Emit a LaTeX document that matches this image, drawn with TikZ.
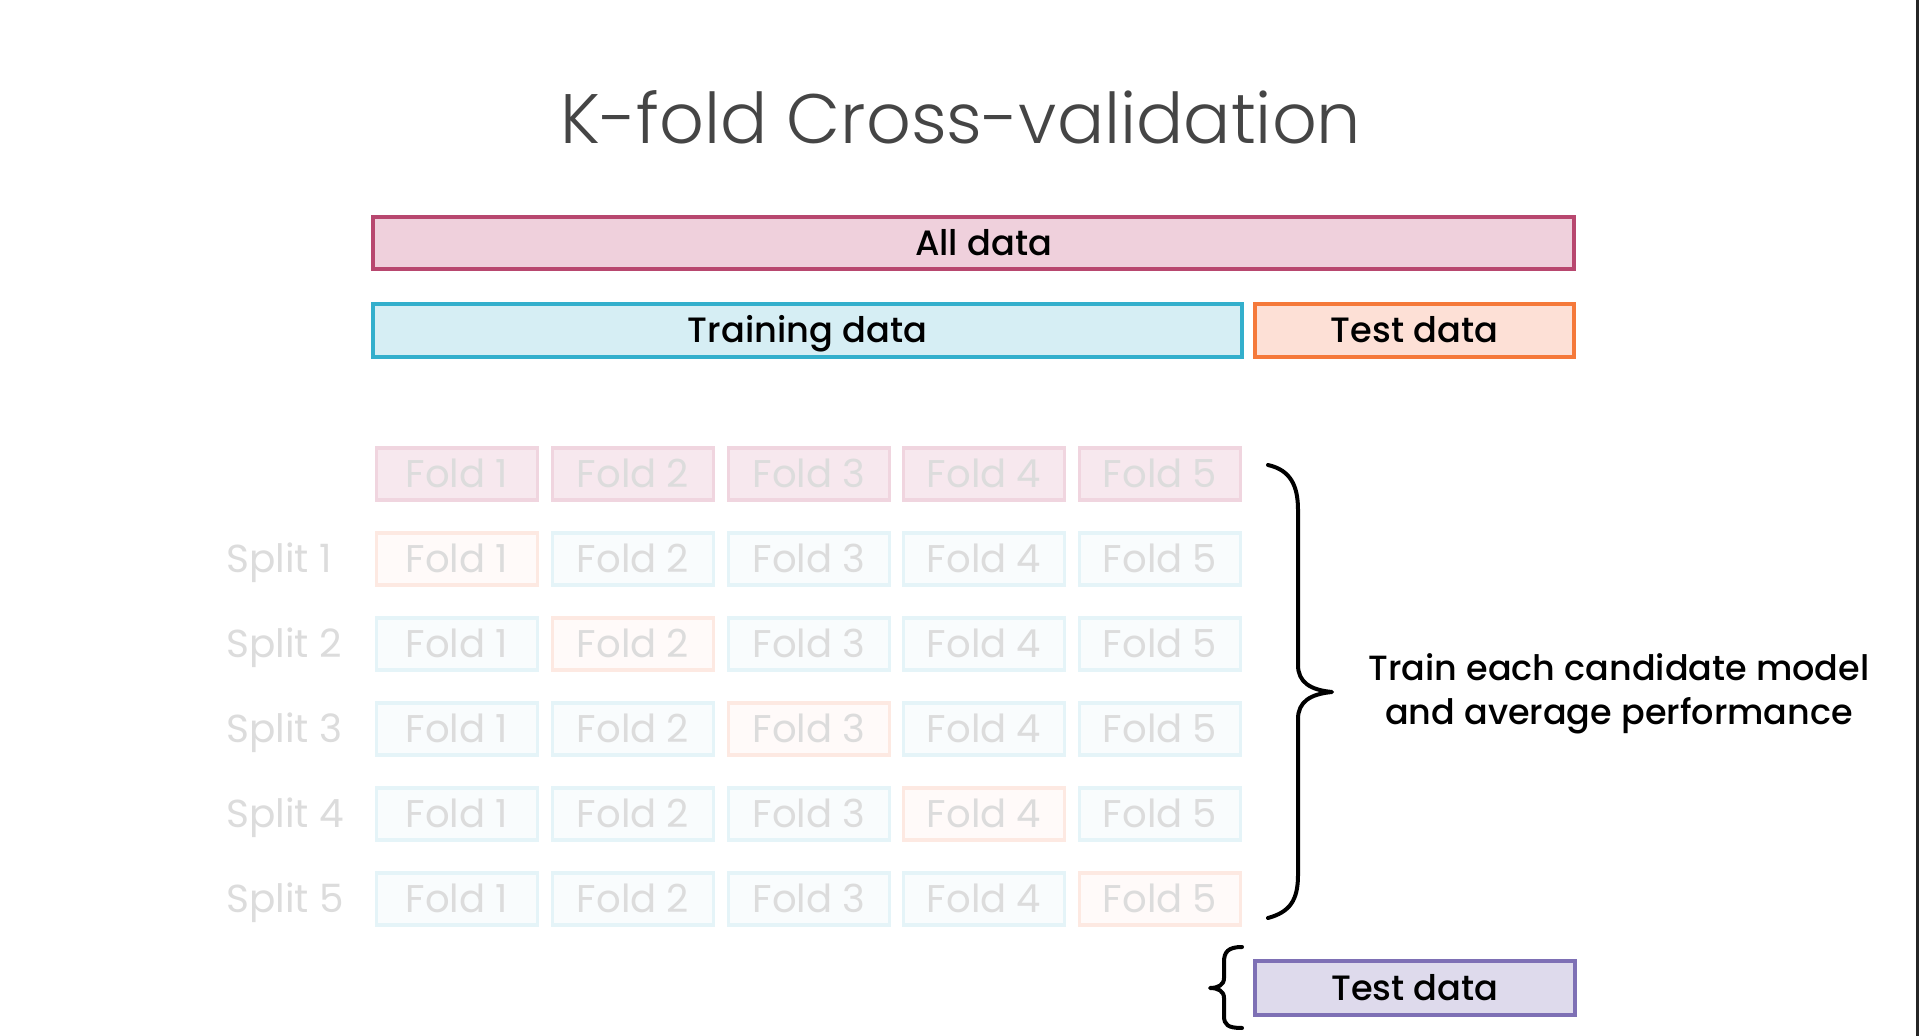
\documentclass[tikz,border=0pt]{standalone}
\usepackage{fontspec}
\IfFontExistsTF{Poppins}{\setmainfont{Poppins}}{\setmainfont{Lato}}
\IfFontExistsTF{Poppins Light}{\newfontfamily\titlefont{Poppins Light}}{\newfontfamily\titlefont{Poppins}}
\IfFontExistsTF{Poppins Medium}{\newfontfamily\medfont{Poppins Medium}}{\newfontfamily\medfont{Poppins}}
\definecolor{alldraw}{HTML}{B8476F}
\definecolor{allfill}{HTML}{EFD0DC}
\definecolor{traindraw}{HTML}{33AFCC}
\definecolor{trainfill}{HTML}{D6EEF4}
\definecolor{testdraw}{HTML}{F5793A}
\definecolor{testfill}{HTML}{FDE0D6}
\definecolor{fintdraw}{HTML}{7E70B5}
\definecolor{fintfill}{HTML}{DEDAEC}
\definecolor{fpinkdraw}{HTML}{F0D5DF}
\definecolor{fpinkfill}{HTML}{F7E8EE}
\definecolor{fbluedraw}{HTML}{E5F4F8}
\definecolor{fbluefill}{HTML}{F9FCFD}
\definecolor{forangedraw}{HTML}{FDE9E2}
\definecolor{forangefill}{HTML}{FFFAF9}
\definecolor{fadetext}{HTML}{DCDCDC}
\definecolor{titlegray}{HTML}{454545}
\tikzset{
  bigbox/.style={rectangle, inner sep=0pt, line width=2pt, text=black,
    text height=12.4pt, text depth=0pt,
    font=\medfont\fontsize{17.6}{21}\selectfont},
  foldbox/.style={rectangle, inner sep=0pt, line width=1.6pt,
    minimum width=80.5pt, minimum height=26pt, text=fadetext,
    text height=13.6pt, text depth=0pt,
    font=\fontsize{19.3}{23}\selectfont},
  splitlabel/.style={anchor=west, inner sep=0pt, text=fadetext,
    text height=13.6pt, text depth=0pt,
    font=\fontsize{19.5}{23}\selectfont},
  bracepath/.style={line width=2pt, line cap=round, line join=round, draw=black}
}
\begin{document}
\begin{tikzpicture}[x=0.5pt,y=-0.5pt]
\useasboundingbox (0,0) rectangle (1920,1036);
\fill[white] (0,0) rectangle (1920,1036);
% right edge line
\draw[line width=1.2pt, draw=black!85] (1917.5,0) -- (1917.5,1036);
% title
\node[anchor=base, inner sep=0pt, text=titlegray,
  font=\titlefont\fontsize{35}{42}\selectfont] (title) at (961,144) {K-fold Cross-validation};
% main boxes
\node[bigbox, draw=alldraw, fill=allfill, minimum width=600.5pt, minimum height=26pt] (all) at (973.5,243) {\hspace*{10pt}All data};
\node[bigbox, draw=traindraw, fill=trainfill, minimum width=434.5pt, minimum height=26.5pt] (train) at (807.5,330.5) {Training data};
\node[bigbox, draw=testdraw, fill=testfill, minimum width=159.5pt, minimum height=26.5pt] (test) at (1414.5,330.5) {Test data};
% fold grid
\foreach \c in {1,...,5}{
  \node[foldbox, draw=fpinkdraw, fill=fpinkfill] (f0\c) at ({457+176*(\c-1)-(\c>3?1:0)},474) {Fold \c};
}
\foreach \r in {1,...,5}{
  \node[splitlabel] (s\r) at (226,{474+85*\r}) {Split \r};
  \foreach \c in {1,...,5}{
    \ifnum\r=\c
      \node[foldbox, draw=forangedraw, fill=forangefill] (f\r\c) at ({457+176*(\c-1)-(\c>3?1:0)},{474+85*\r}) {Fold \c};
    \else
      \node[foldbox, draw=fbluedraw, fill=fbluefill] (f\r\c) at ({457+176*(\c-1)-(\c>3?1:0)},{474+85*\r}) {Fold \c};
    \fi
  }
}
% big brace
\draw[bracepath] (1268,465) .. controls (1290,470) and (1298,485) .. (1298,510)
  -- (1298,665) .. controls (1298,682) and (1310,690) .. (1332,692)
  .. controls (1310,694) and (1298,702) .. (1298,719)
  -- (1298,875) .. controls (1298,900) and (1290,912) .. (1268,918);
\coordinate (btip) at (1332,692);
\node[align=center, inner sep=0pt, text=black,
  font=\medfont\fontsize{17.5}{22}\selectfont] (trainnote) at (1619,694)
  {Train each candidate model\\and average performance};
% bottom test box
\node[bigbox, draw=fintdraw, fill=fintfill, minimum width=160pt, minimum height=27pt] (final) at (1415,988) {Test data};
% small brace
\draw[bracepath] (1242,947) .. controls (1228,947) and (1224,952) .. (1224,962)
  -- (1224,978) .. controls (1224,985) and (1218,988) .. (1210,988)
  .. controls (1218,988) and (1224,991) .. (1224,998)
  -- (1224,1016) .. controls (1224,1025) and (1228,1028) .. (1242,1028);
\end{tikzpicture}
\end{document}
